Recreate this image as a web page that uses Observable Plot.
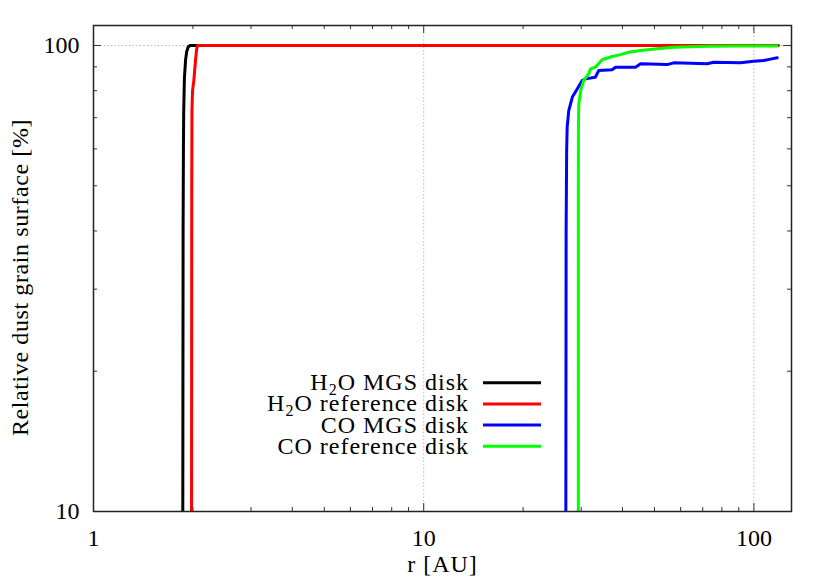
<!DOCTYPE html>
<html><head><meta charset="utf-8">
<script src="https://cdn.jsdelivr.net/npm/d3@7"></script>
<script src="https://cdn.jsdelivr.net/npm/@observablehq/plot@0.6"></script>
<style>body{margin:0;background:#fff}#chart{width:830px;height:581px}</style>
</head><body><div id="chart"></div>
<script>
// ---- data (r in AU, relative surface in %) ----
const h2oMgsR = [1.864, 1.868, 1.872, 1.876, 1.885, 1.9, 1.915, 1.935, 1.96, 118.5];
const h2oMgsV = [10, 40, 60, 72.5, 85, 92.9, 97, 99.3, 100, 100];
const h2oRefR = [1.981, 1.984, 1.987, 1.995, 2.013, 2.037, 2.052, 2.065, 118.5];
const h2oRefV = [10, 50, 72.5, 80, 84.1, 92.9, 98, 100, 100];
const coMgsR = [26.95, 27.0, 27.1, 27.2, 27.5, 28.2, 29.2, 30.2, 30.9, 33.1, 33.9, 37.2, 38.1, 43.8, 45.4, 54.6, 57.2, 72.2, 75.6, 91.1, 99.9, 107.2, 112.3, 117.7];
const coMgsV = [10, 40, 59.5, 66.8, 72.5, 77.5, 80.8, 84.1, 84.8, 85.5, 88.4, 88.7, 89.8, 89.8, 91.4, 91.0, 91.8, 91.4, 92.1, 91.8, 92.5, 92.9, 93.5, 94.1];
const coRefR = [29.4, 29.4, 29.42, 29.5, 29.9, 30.5, 31.6, 32.0, 33.1, 34.7, 37.2, 39.4, 41.8, 45.4, 50.9, 57.2, 72.2, 91.1, 117.7];
const coRefV = [10, 50, 66.8, 75.0, 80.1, 84.1, 86.9, 89.1, 89.8, 93.2, 94.7, 95.6, 96.7, 97.6, 98.4, 99.2, 99.65, 99.8, 99.8];

const seriesNames = ["H2O MGS disk", "H2O reference disk", "CO MGS disk", "CO reference disk"];
const seriesColors = ["#000000", "#ff0000", "#0000ff", "#00ff00"];

const xMajor = [1, 10, 100];
const xMinor = [2, 3, 4, 5, 6, 7, 8, 9, 20, 30, 40, 50, 60, 70, 80, 90];
const yMajor = [10, 100];
const yMinor = [20, 30, 40, 50, 60, 70, 80, 90];
const xGrid = [10, 100];
const yGrid = [100];
const xDomain = [1, 130];
const yDomain = [10, 110.4];

// ---- layout ----
const W = 830, H = 581, mL = 93, mR = 39, mT = 25, mB = 70;
const pW = W - mL - mR, pH = H - mT - mB;
const font = "'Liberation Serif', 'DejaVu Serif', serif";
const tickColor = "#333";

const toRows = (R, V, name) => R.map((r, i) => ({r, v: V[i], name}));
const allSeries = [
  toRows(h2oMgsR, h2oMgsV, seriesNames[0]),
  toRows(h2oRefR, h2oRefV, seriesNames[1]),
  toRows(coMgsR, coMgsV, seriesNames[2]),
  toRows(coRefR, coRefV, seriesNames[3])
];

const svg = Plot.plot({
  width: W, height: H,
  marginLeft: mL, marginRight: mR, marginTop: mT, marginBottom: mB,
  style: {fontFamily: font, fontSize: "24px", background: "#fff", color: "#000"},
  x: {type: "log", domain: xDomain},
  y: {type: "log", domain: yDomain},
  marks: [
    Plot.ruleX(xGrid, {x: d => d, stroke: "#aaa", strokeDasharray: "1.2,2.4", strokeWidth: 1}),
    Plot.ruleY(yGrid, {y: d => d, stroke: "#aaa", strokeDasharray: "1.2,2.4", strokeWidth: 1}),
    // inward ticks, mirrored on all four sides
    Plot.ruleX(xMajor, {x: d => d, insetTop: pH - 8, stroke: tickColor}),
    Plot.ruleX(xMajor, {x: d => d, insetBottom: pH - 8, stroke: tickColor}),
    Plot.ruleX(xMinor, {x: d => d, insetTop: pH - 4, stroke: tickColor}),
    Plot.ruleX(xMinor, {x: d => d, insetBottom: pH - 4, stroke: tickColor}),
    Plot.ruleY(yMajor, {y: d => d, insetRight: pW - 8, stroke: tickColor}),
    Plot.ruleY(yMajor, {y: d => d, insetLeft: pW - 8, stroke: tickColor}),
    Plot.ruleY(yMinor, {y: d => d, insetRight: pW - 4, stroke: tickColor}),
    Plot.ruleY(yMinor, {y: d => d, insetLeft: pW - 4, stroke: tickColor}),
    ...allSeries.map((rows, i) => Plot.line(rows, {x: "r", y: "v", stroke: seriesColors[i], strokeWidth: 3, clip: true, strokeLinejoin: "round"})),
    Plot.frame({stroke: "#222", strokeWidth: 1.5}),
    Plot.axisX({ticks: xMajor, tickSize: 0, tickPadding: 17, fontSize: 24, tickFormat: d => String(d), label: null}),
    Plot.axisY({ticks: yMajor, tickSize: 0, tickPadding: 14, fontSize: 24, tickFormat: d => String(d), label: null}),
    Plot.text(["r [AU]"], {frameAnchor: "bottom", dy: 60, fontSize: 24, textAnchor: "middle"}),
    Plot.text(["Relative dust grain surface [%]"], {frameAnchor: "left", rotate: -90, dx: -73, dy: 9, fontSize: 24, textAnchor: "middle"})
  ]
});

// label letter spacing to approximate the reference's wider serif face
d3.select(svg).selectAll("text").filter(function() {
  return this.textContent === "r [AU]";
}).attr("letter-spacing", "1px");
d3.select(svg).selectAll("text").filter(function() {
  return this.textContent.startsWith("Relative");
}).attr("letter-spacing", "0.6px");

// ---- legend (inside plot) ----
const legendRowY = [382.7, 403.9, 425.1, 446.3];
const g = d3.select(svg).append("g").attr("font-family", font).attr("font-size", 24);
const labelParts = [
  ["H", "2", "O MGS disk"],
  ["H", "2", "O reference disk"],
  ["CO MGS disk"],
  ["CO reference disk"]
];
labelParts.forEach((parts, i) => {
  const y = legendRowY[i];
  g.append("line").attr("x1", 483).attr("x2", 541).attr("y1", y).attr("y2", y)
    .attr("stroke", seriesColors[i]).attr("stroke-width", 3);
  const t = g.append("text").attr("x", 469).attr("y", y + 7.5).attr("text-anchor", "end")
    .attr("letter-spacing", "1px");
  if (parts.length === 3) {
    t.append("tspan").text(parts[0]);
    t.append("tspan").attr("dy", 5).attr("font-size", 16).text(parts[1]);
    t.append("tspan").attr("dy", -5).text(parts[2]);
  } else {
    t.text(parts[0]);
  }
});

document.getElementById("chart").appendChild(svg);
</script>
</body></html>
